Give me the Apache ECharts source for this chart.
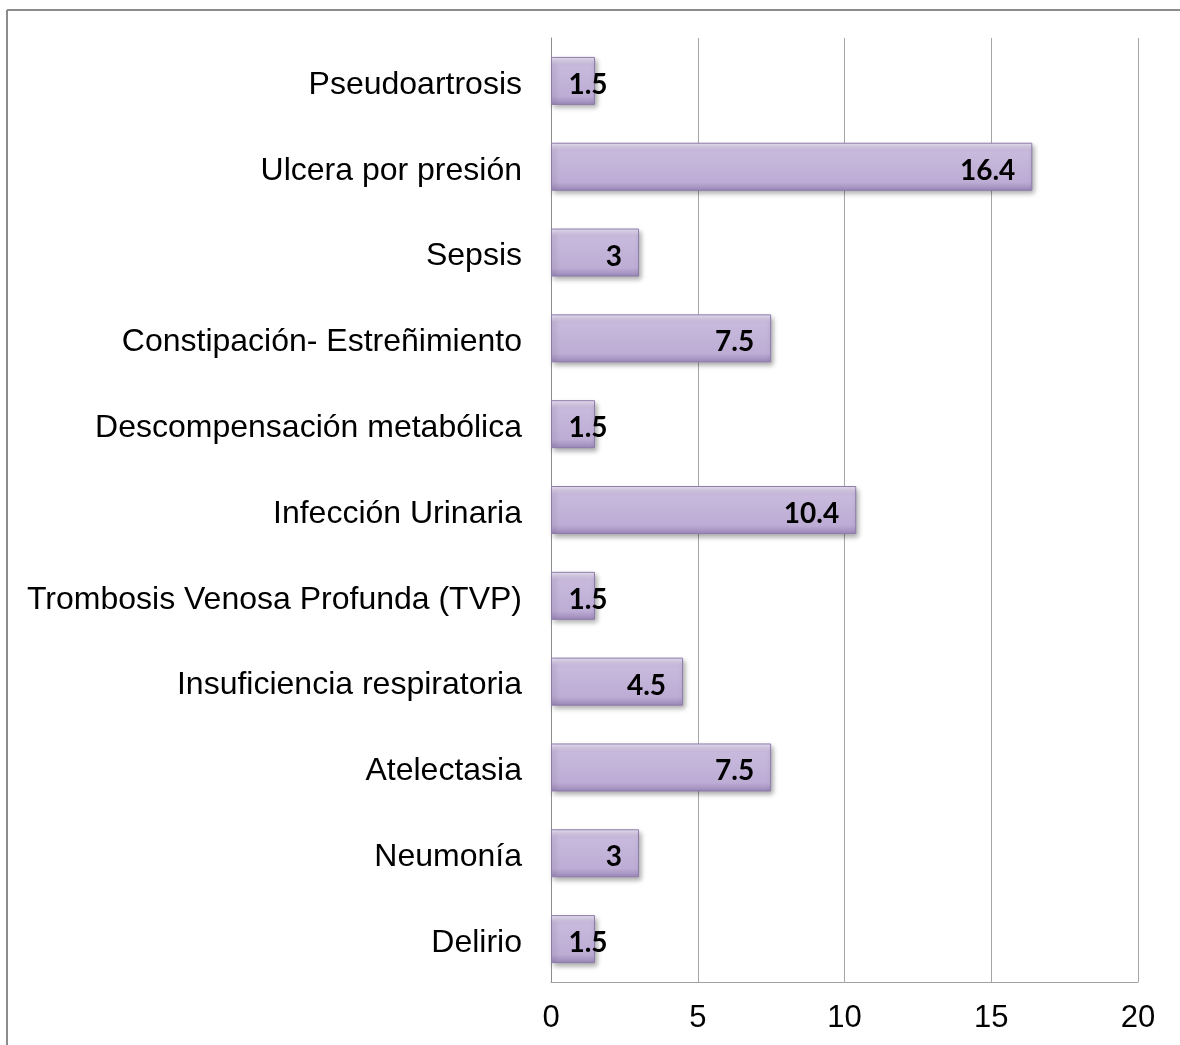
<!DOCTYPE html>
<html>
<head>
<meta charset="utf-8">
<script src="https://cdn.jsdelivr.net/npm/echarts@6/dist/echarts.min.js"></script>
<style>
  html, body { margin: 0; padding: 0; background: #fff; }
  #chart { width: 1180px; height: 1045px; }
</style>
</head>
<body>
<div id="chart"></div>
<script>
const categories = [
  "Pseudoartrosis",
  "Ulcera por presión",
  "Sepsis",
  "Constipación- Estreñimiento",
  "Descompensación metabólica",
  "Infección Urinaria",
  "Trombosis Venosa Profunda (TVP)",
  "Insuficiencia respiratoria",
  "Atelectasia",
  "Neumonía",
  "Delirio",
];
const values = [1.5, 16.4, 3, 7.5, 1.5, 10.4, 1.5, 4.5, 7.5, 3, 1.5];
const xTicks = [0, 5, 10, 15, 20];

const chart = echarts.init(document.getElementById("chart"));

const barFill = new echarts.graphic.LinearGradient(0, 0, 0, 1, [
  { offset: 0, color: "#ece5f5" },
  { offset: 0.16, color: "#c8badd" },
  { offset: 0.82, color: "#bdacd4" },
  { offset: 1, color: "#9b87b8" },
]);

const option = {
  animation: false,
  graphic: [
    {
      type: "line",
      shape: { x1: 7, y1: 10, x2: 1180, y2: 10 },
      style: { stroke: "#8c8c8c", lineWidth: 2 },
    },
    {
      type: "line",
      shape: { x1: 7, y1: 10, x2: 7, y2: 1045 },
      style: { stroke: "#8c8c8c", lineWidth: 2 },
    },
  ],
  grid: { left: 551, right: 42, top: 38, bottom: 63 },
  xAxis: {
    type: "value",
    min: xTicks[0],
    max: xTicks[xTicks.length - 1],
    interval: 5,
    axisLine: { show: true, lineStyle: { color: "#a0a0a0", width: 1 } },
    axisTick: { show: false },
    splitLine: { lineStyle: { color: "#a6a6a6", width: 1 } },
    axisLabel: {
      color: "#000",
      fontSize: 31,
      fontFamily: "Liberation Sans, Arial, sans-serif",
      margin: 21,
    },
  },
  yAxis: {
    type: "category",
    data: categories,
    inverse: true,
    axisLine: { show: true, lineStyle: { color: "#8c8c8c", width: 1 } },
    axisTick: { show: false },
    axisLabel: {
      margin: 29,
      formatter: (name) => `{c|${name}}`,
      rich: {
        c: {
          color: "#000",
          fontSize: 32,
          fontFamily: "Liberation Sans, Arial, sans-serif",
          padding: [8, 0, 0, 0],
        },
      },
    },
  },
  series: [
    {
      type: "bar",
      barWidth: 48,
      data: values.map((v) => ({
        value: v,
        label: v < 2 ? { position: "inside", offset: [15, 4] } : undefined,
      })),
      itemStyle: {
        color: barFill,
        borderColor: "#8e7cab",
        borderWidth: 1,
        shadowColor: "rgba(0,0,0,0.35)",
        shadowBlur: 5,
        shadowOffsetX: 2,
        shadowOffsetY: 3,
      },
      label: {
        show: true,
        position: "insideRight",
        distance: 17,
        color: "#000",
        fontSize: 28,
        fontWeight: "bold",
        fontFamily: "Lato, Open Sans, sans-serif",
        offset: [0, 4],
      },
    },
  ],
};

chart.setOption(option);
</script>
</body>
</html>
